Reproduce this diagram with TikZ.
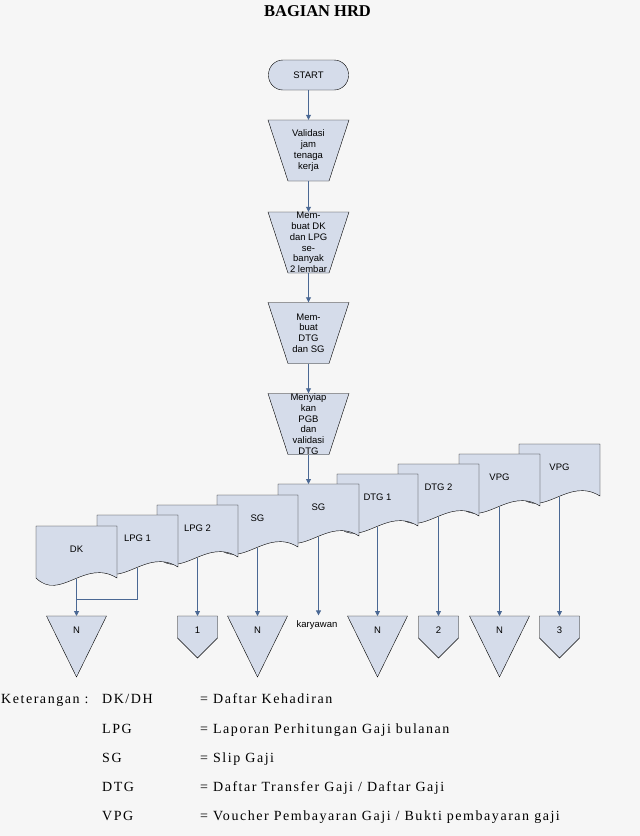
\documentclass[tikz,border=0pt]{standalone}
\usepackage{fontspec}
\setmainfont{Liberation Serif}
\setsansfont{Liberation Sans}
\newfontfamily\legendfont[LetterSpace=11]{Liberation Serif}
\usetikzlibrary{arrows.meta, shapes.geometric, positioning, calc}
\definecolor{hrdfill}{RGB}{213,220,234}
\definecolor{hrdline}{RGB}{74,104,148}
\definecolor{hrdback}{RGB}{246,246,246}

\tikzset{
  flowtext/.style={font=\sffamily\fontsize{9.5}{10.8}\selectfont, inner sep=1pt, align=center},
  startbox/.style={draw, fill=hrdfill, rounded corners=14.5pt, minimum width=80pt, minimum height=30pt, flowtext},
  manual/.style={minimum width=41pt, minimum height=61pt, inner sep=0pt},
  sheet/.style={draw, fill=hrdfill},
  flow/.style={draw=hrdline, line width=0.8pt, -{Triangle[length=5pt,width=5pt]}},
  link/.style={draw=hrdline, line width=0.8pt},
  legend/.style={font=\legendfont\fontsize{14}{16}\selectfont, anchor=base west, inner sep=0pt},
}

% manual operation: name, centre x, centre y, text
\newcommand{\hrdmanual}[4]{%
  \filldraw[sheet] (#2-40.5,#3-30.5) -- (#2+40.5,#3-30.5) -- (#2+20.5,#3+30.5) -- (#2-20.5,#3+30.5) -- cycle;
  \node[manual, label={[flowtext]center:{#4}}] (#1) at (#2,#3) {};
}
% document sheet: name, left, top, label
\newcommand{\hrdsheet}[4]{%
  \filldraw[sheet] (#2,#3) -- ++(81,0) -- ++(0,52)
    .. controls +(-32.4,-20) and +(24.3,24) .. ++(-81,0) -- cycle;
  \node[flowtext] (#1) at (#2+40.5,#3+23) {#4};
  \coordinate (#1-top) at (#2+40.5,#3);
  \coordinate (#1-out) at (#2+40.5,#3+53);
}
% merge (archive) triangle: name, centre x, top
\newcommand{\hrdmerge}[3]{%
  \filldraw[sheet] (#2-30,#3) -- (#2+30,#3) -- (#2,#3+61) -- cycle;
  \node[flowtext] (#1) at (#2,#3+14) {N};
  \coordinate (#1-in) at (#2,#3);
}
% off-page connector: name, centre x, top, label
\newcommand{\hrdpage}[4]{%
  \filldraw[sheet] (#2-20,#3) -- (#2+20,#3) -- (#2+20,#3+22) -- (#2,#3+42) -- (#2-20,#3+22) -- cycle;
  \node[flowtext] (#1) at (#2,#3+14) {#4};
  \coordinate (#1-in) at (#2,#3);
}

\begin{document}
\begin{tikzpicture}[x=1pt, y=-1pt]
  \path[fill=hrdback, use as bounding box] (0,0) rectangle (640,836);

  \node[font=\bfseries\fontsize{16.5}{18}\selectfont] (title) at (317.5,11) {BAGIAN HRD};

  % proses
  \node[startbox] (start) at (308.5,75) {START};
  \hrdmanual{valid}{308.5}{150.5}{Validasi\\jam\\tenaga\\kerja}
  \hrdmanual{buatdk}{308.5}{242.5}{Mem-\\buat DK\\dan LPG\\se-\\banyak\\2 lembar}
  \hrdmanual{buatdtg}{308.5}{333}{Mem-\\buat\\DTG\\dan SG}
  \hrdmanual{susun}{308.5}{424}{Menyiap\\kan\\PGB\\dan\\validasi\\DTG}

  % dokumen, dari belakang ke depan
  \hrdsheet{vpgb}{519}{444}{VPG}
  \hrdsheet{vpga}{459}{454}{VPG}
  \hrdsheet{dtgb}{398}{464}{DTG 2}
  \hrdsheet{dtga}{337}{474}{DTG 1}
  \hrdsheet{sgb}{278}{484}{SG}
  \hrdsheet{sga}{217}{495}{SG}
  \hrdsheet{lpgb}{157}{505}{LPG 2}
  \hrdsheet{lpga}{97}{515}{LPG 1}
  \hrdsheet{dk}{36}{526}{DK}

  % arsip dan penghubung
  \hrdmerge{na}{76.5}{616}
  \hrdpage{pa}{197.5}{616}{1}
  \hrdmerge{nb}{257.5}{616}
  \node[flowtext, inner ysep=5pt] (kary) at (317,625) {karyawan};
  \hrdmerge{nc}{377.5}{616}
  \hrdpage{pb}{438.5}{616}{2}
  \hrdmerge{nd}{499.5}{616}
  \hrdpage{pc}{559.5}{616}{3}

  \draw[flow] (start) -- (valid);
  \draw[flow] (valid) -- (buatdk);
  \draw[flow] (buatdk) -- (buatdtg);
  \draw[flow] (buatdtg) -- (susun);
  \draw[flow] (susun.south) -- (susun.south |- sgb-top);

  \coordinate (dkjoin) at (76.5,599);
  \draw[flow] (dk-out) -- (na-in);
  \draw[link] (lpga-out) |- (dkjoin);
  \draw[flow] (lpgb-out) -- (pa-in);
  \draw[flow] (sga-out) -- (nb-in);
  \draw[flow] (sgb-out) -- (sgb-out |- kary.north);
  \draw[flow] (dtga-out) -- (nc-in);
  \draw[flow] (dtgb-out) -- (pb-in);
  \draw[flow] (vpga-out) -- (nd-in);
  \draw[flow] (vpgb-out) -- (pc-in);

  % keterangan
  \node[legend] (ket) at (1,703) {Keterangan :};
  \node[legend] (abdk) at (102,703) {DK/DH};
  \node[legend] (dedk) at (200,703) {= Daftar Kehadiran};
  \node[legend] (ablpg) at (102,733) {LPG};
  \node[legend] (delpg) at (200,733) {= Laporan Perhitungan Gaji bulanan};
  \node[legend] (absg) at (102,762) {SG};
  \node[legend] (desg) at (200,762) {= Slip Gaji};
  \node[legend] (abdtg) at (102,791) {DTG};
  \node[legend] (dedtg) at (200,791) {= Daftar Transfer Gaji / Daftar Gaji};
  \node[legend] (abvpg) at (102,820) {VPG};
  \node[legend] (devpg) at (200,820) {= Voucher Pembayaran Gaji / Bukti pembayaran gaji};
\end{tikzpicture}
\end{document}
